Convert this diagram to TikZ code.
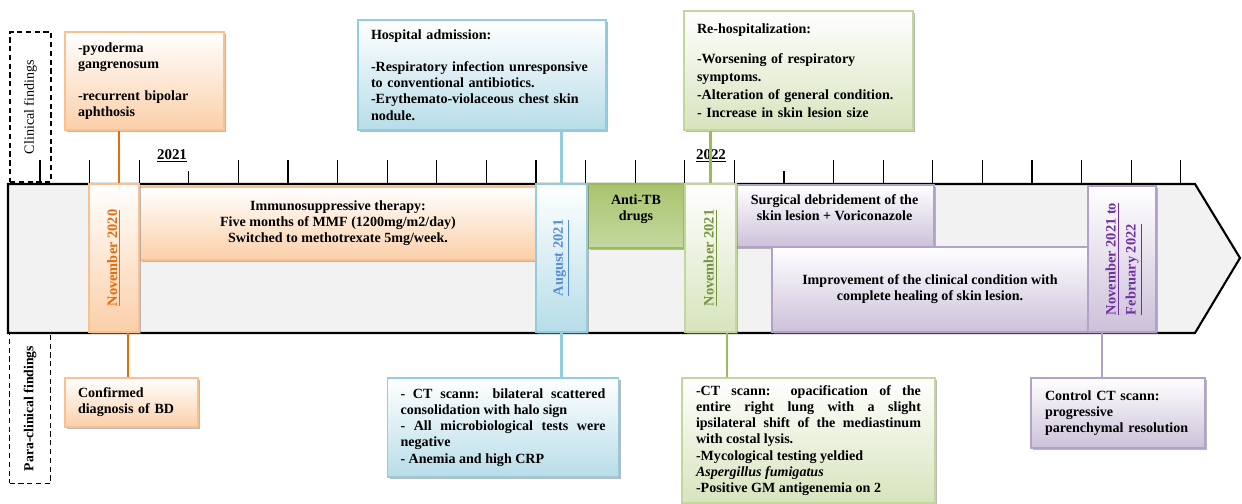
\documentclass[tikz,border=0pt]{standalone}
\usepackage{fontspec}
\setmainfont{Liberation Serif}
\usepackage{xcolor}
\usepackage{tikz}
\usetikzlibrary{calc, shadows}

\definecolor{orgline}{HTML}{FAC090}
\definecolor{orgfill}{HTML}{FBCFA8}
\definecolor{orgdark}{HTML}{E46C0A}
\definecolor{blueline}{HTML}{93CDDD}
\definecolor{bluefill}{HTML}{B7DDE8}
\definecolor{bluedark}{HTML}{558ED5}
\definecolor{grnline}{HTML}{C3D69B}
\definecolor{grnfill}{HTML}{D7E4BD}
\definecolor{grnconn}{HTML}{9BBB59}
\definecolor{grndark}{HTML}{77933C}
\definecolor{tbtop}{HTML}{A9C46E}
\definecolor{tbmid}{HTML}{93B24F}
\definecolor{tbbot}{HTML}{C4D8A0}
\definecolor{purline}{HTML}{B3A2C7}
\definecolor{purfill}{HTML}{CCC1DA}
\definecolor{purdark}{HTML}{7030A0}
\definecolor{arrowfill}{HTML}{F2F2F2}

\newcommand\boxfont{\fontsize{8}{9.2}\selectfont\bfseries}
\newcommand\datefont{\fontsize{8.2}{9.8}\selectfont\bfseries}

\begin{document}
\begin{tikzpicture}[
  x=0.02cm, y=-0.02cm,
  box/.style={draw, line width=0.8pt, inner xsep=0.26cm, inner ysep=0pt, font=\boxfont,
    drop shadow={shadow xshift=1.4pt, shadow yshift=-1.4pt, fill=black!50, opacity=0.55}},
  orgbox/.style={box, draw=orgline, top color=white, bottom color=orgfill},
  bluebox/.style={box, draw=blueline, top color=white, bottom color=bluefill},
  grnbox/.style={box, draw=grnline, top color=white, bottom color=grnfill},
  purbox/.style={box, draw=purline, top color=white, bottom color=purfill},
  datebox/.style={box, line width=1pt, inner sep=0pt, font=\datefont, minimum height=2.96cm},
  conn/.style={line width=1.4pt},
  tick/.style={line width=0.7pt},
  findings/.style={draw, dashed, line width=1pt, dash pattern=on 3pt off 2pt, inner sep=0pt,
    minimum width=0.82cm, minimum height=3cm, font=\fontsize{8}{9}\selectfont}
]
\useasboundingbox (0,0) rectangle (1242,504);

% time axis
\draw[line width=1.2pt, fill=arrowfill] (8,184) -- (1195,184) -- (1240,258) -- (1195,333) -- (8,333) -- cycle;
\foreach \i in {0,1,2,4,5,6,7,8,9,10,11,12,13,14,16,17,18,19,20,21,22,23}
  \draw[tick] ({40+49.6*\i},160) -- ({40+49.6*\i},184);
\foreach \i in {3,15}
  \draw[tick] ({40+49.6*\i},171) -- ({40+49.6*\i},184);
\node[font=\fontsize{8.5}{10}\selectfont\bfseries] (yr21) at (172,156) {\underline{2021}};
\node[font=\fontsize{8.5}{10}\selectfont\bfseries] (yr22) at (711,156) {\underline{2022}};

% row labels
\node[findings] (clinical) at (30.5,107) {\rotatebox{90}{Clinical findings}};
\node[findings, font=\fontsize{7.8}{9}\selectfont\bfseries] (paraclin) at (30,408.5) {\rotatebox{90}{Para-clinical findings}};

% clinical findings
\node[orgbox, minimum width=3.18cm, minimum height=1.96cm, text width=2.66cm, align=left] (clin1) at (144.5,81)
  {-pyoderma\\gangrenosum\\[9pt]-recurrent bipolar\\aphthosis};
\node[bluebox, minimum width=4.96cm, minimum height=2.2cm, text width=4.44cm, align=left] (clin2) at (482,75)
  {Hospital admission:\\[9pt]-Respiratory infection unresponsive\\to conventional antibiotics.\\-Erythemato-violaceous chest skin\\nodule.};
\node[grnbox, minimum width=4.58cm, minimum height=2.38cm, text width=4.06cm, align=left,
  font=\fontsize{8}{10.2}\selectfont\bfseries] (clin3) at (798.5,70.5)
  {Re-hospitalization:\\[7pt]-Worsening of respiratory\\symptoms.\\-Alteration of general condition.\\- Increase in skin lesion size};

% para-clinical findings
\node[orgbox, minimum width=2.66cm, minimum height=0.98cm, text width=2.14cm, align=left] (para1) at (131.5,402.5)
  {Confirmed\\diagnosis of BD};
\node[bluebox, minimum width=4.6cm, minimum height=1.98cm, text width=4.1cm, align=justify] (para2) at (503,427.5)
  {- CT scann: bilateral scattered\linebreak consolidation with halo sign\\- All microbiological tests were\linebreak negative\\- Anemia and high CRP};
\node[grnbox, minimum width=5.06cm, minimum height=2.5cm, text width=4.5cm, align=justify] (para3) at (808.5,440.5)
  {-CT scann: opacification of the\linebreak entire right lung with a slight\linebreak ipsilateral shift of the mediastinum\linebreak with costal lysis.\\-Mycological testing yeldied\\\textit{Aspergillus fumigatus}\\-Positive GM antigenemia on 2};
\node[purbox, minimum width=3.48cm, minimum height=1.4cm, text width=2.92cm, align=left] (para4) at (1118,413)
  {Control CT scann:\\progressive\\parenchymal resolution};

% treatment periods
\node[orgbox, minimum width=7.96cm, minimum height=1.46cm, align=center] (immuno) at (338,223.5)
  {Immunosuppressive therapy:\\Five months of MMF (1200mg/m2/day)\\Switched to methotrexate 5mg/week.};
\node[box, draw=grnconn, top color=tbtop, middle color=tbmid, bottom color=tbbot,
  minimum width=1.92cm, minimum height=1.28cm, align=center] (antitb) at (636,216) {Anti-TB\\drugs\\\mbox{}};
\node[purbox, minimum width=3.98cm, minimum height=1.24cm, align=center] (surg) at (834.5,216)
  {Surgical debridement of the\\skin lesion + Voriconazole\\\mbox{}};
\node[purbox, minimum width=6.32cm, minimum height=1.7cm, align=center] (improv) at (930,289.5)
  {Improvement of the clinical condition with\\complete healing of skin lesion.};

% dates
\node[datebox, draw=orgline, top color=white, bottom color=orgfill, minimum width=1cm, text=orgdark] (nov20) at (114,258)
  {\rotatebox{90}{\underline{November 2020}}};
\node[datebox, draw=blueline, top color=white, bottom color=bluefill, minimum width=1.02cm, text=bluedark] (aug21) at (561.5,258)
  {\rotatebox{90}{\underline{August 2021}}};
\node[datebox, draw=grnline, top color=white, bottom color=grnfill, minimum width=1.02cm, text=grndark] (nov21) at (710.5,258)
  {\rotatebox{90}{\underline{November 2021}}};
\node[datebox, draw=purline, top color=white, bottom color=purfill, minimum width=1.36cm, minimum height=2.92cm, text=purdark] (novfeb) at (1122,259)
  {\rotatebox{90}{\renewcommand\arraystretch{1.15}\begin{tabular}{@{}l@{}}\underline{November 2021 to}\\\underline{February 2022}\end{tabular}}};

% links
\coordinate (k1) at ($(nov20.north)+(5,0)$);
\draw[conn, orgdark] (k1) -- (k1 |- clin1.south);
\draw[conn, blueline] (aug21.north) -- (aug21.north |- clin2.south);
\draw[conn, grnconn] (nov21.north) -- (nov21.north |- clin3.south);
\coordinate (k2) at ($(nov20.south)+(14,0)$);
\draw[conn, orgdark] (k2) -- (k2 |- para1.north);
\draw[conn, blueline] (aug21.south) -- (aug21.south |- para2.north);
\coordinate (k3) at ($(nov21.south)+(16.5,0)$);
\draw[conn, grnconn] (k3) -- (k3 |- para3.north);
\coordinate (k4) at ($(novfeb.south)+(-20,0)$);
\draw[conn, purline] (k4) -- (k4 |- para4.north);
\end{tikzpicture}
\end{document}
